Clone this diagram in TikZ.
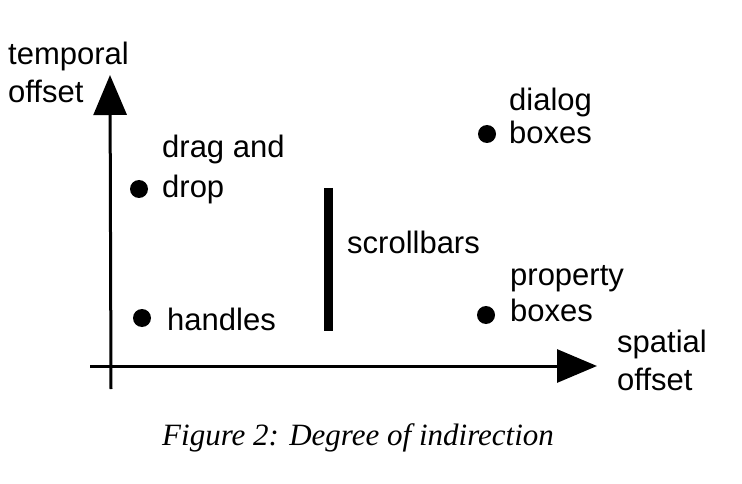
\documentclass[tikz,border=0pt]{standalone}
\usepackage{fontspec}
\setmainfont{Liberation Sans}
\newfontfamily\capfont{Liberation Serif}
\usetikzlibrary{arrows.meta}
\tikzset{
  lbl/.style={anchor=base west, inner sep=0pt, align=left, font=\fontsize{31}{38}\selectfont},
  dot/.style={circle, fill=black, inner sep=0pt, minimum size=18pt},
  axis/.style={line width=3pt, -{Triangle[length=40pt,width=33pt]}},
  bar/.style={line width=9pt}
}
\begin{document}
\begin{tikzpicture}[x=1pt,y=-1pt]
\useasboundingbox (0,0) rectangle (742,484);
% axes
\coordinate (yb) at (111,389);
\coordinate (yt) at (110,75);
\coordinate (xl) at (90,366);
\coordinate (xr) at (597,366);
\draw[axis] (yb) -- (yt);
\draw[axis] (xl) -- (xr);
% axis labels
\node[lbl] (tl1) at (8,65) {temporal};
\node[lbl] (tl2) at (8,103) {offset};
\node[lbl] (sl1) at (617,352) {spatial};
\node[lbl] (sl2) at (617,390) {offset};
% dots
\node[dot] (dd) at (139,189) {};
\node[dot] (hd) at (142,318) {};
\node[dot] (db) at (487,134) {};
\node[dot] (pb) at (486,315) {};
\node[lbl] (ddl1) at (162,158) {drag and};
\node[lbl] (ddl2) at (162,197) {drop};
\node[lbl] (hdl) at (167,330) {handles};
\node[lbl] (dbl1) at (509,111) {dialog};
\node[lbl] (dbl2) at (509,144) {boxes};
\node[lbl] (pbl1) at (510,285) {property};
\node[lbl] (pbl2) at (510,321) {boxes};
% scrollbar
\coordinate (st) at (328,188);
\coordinate (sb) at (328,331);
\draw[bar] (st) -- (sb);
\node[lbl] (sbl) at (347,253) {scrollbars};
% caption
\node[lbl, font=\capfont\itshape\fontsize{31}{36}\selectfont] (cap) at (162,445) {Figure 2: Degree of indirection};
\end{tikzpicture}
\end{document}
